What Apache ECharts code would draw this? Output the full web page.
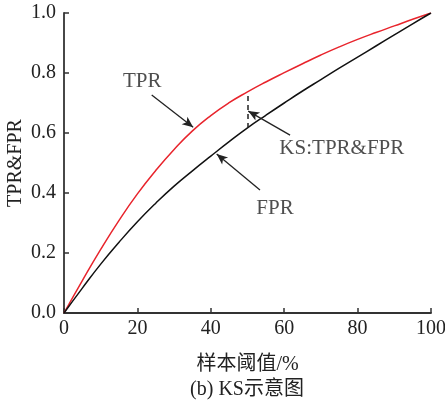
<!DOCTYPE html>
<html><head><meta charset="utf-8">
<script src="https://cdn.jsdelivr.net/npm/echarts@6/dist/echarts.min.js"></script>
<style>html,body{margin:0;padding:0;background:#fff}#c{width:445px;height:400px}</style>
</head><body><div id="c"></div>
<script>
const thresholds = [0,5,10,15,20,25,30,35,40,45,50,55,60,65,70,75,80,85,90,95,100];
const tpr = [0,0.108,0.212,0.309,0.397,0.475,0.545,0.607,0.658,0.701,0.737,0.770,0.801,0.831,0.860,0.887,0.912,0.935,0.957,0.979,1.0];
const fpr = [0,0.083,0.163,0.236,0.304,0.366,0.423,0.474,0.523,0.571,0.617,0.659,0.70,0.74,0.778,0.816,0.853,0.89,0.927,0.964,1.0];
const xTicks = [0,20,40,60,80,100];
const yTicks = [0,0.2,0.4,0.6,0.8,1.0];
const ksIndex = 10;
const annoLabels = ['TPR','KS:TPR&FPR','FPR'];
const annoLabelPos = [[21.3,0.773],[75.7,0.547],[57.5,0.35]];
const annoArrowFrom = [[23.9,0.727],[61.6,0.593],[53.4,0.41]];
const annoArrowTo = [[35.2,0.619],[50.2,0.673],[41.6,0.53]];
const xName = '样本阈值/%';
const yName = 'TPR&FPR';
const caption = '(b) KS示意图';

const FONT = "'Liberation Serif', 'Noto Sans CJK SC', serif";
const chart = echarts.init(document.getElementById('c'));
const axisCommon = {
  axisLine:{show:true,lineStyle:{color:'#333',width:1.8}},
  axisTick:{show:true,inside:true,length:5,lineStyle:{color:'#333',width:1.5}},
  splitLine:{show:false},
  nameMoveOverlap:false,
  nameTextStyle:{color:'#222',fontFamily:FONT,fontSize:20}
};
chart.setOption({
  animation:false,
  backgroundColor:'#fff',
  grid:{left:64,right:14,top:13,bottom:87,containLabel:false,outerBoundsMode:'none'},
  xAxis:Object.assign({type:'value',min:xTicks[0],max:xTicks[xTicks.length-1],interval:xTicks[1]-xTicks[0],
    name:xName,nameLocation:'middle',nameGap:42},axisCommon,
    {axisLabel:{color:'#222',fontFamily:FONT,fontSize:20,margin:6}}),
  yAxis:Object.assign({type:'value',min:yTicks[0],max:yTicks[yTicks.length-1],interval:yTicks[1]-yTicks[0],
    name:yName,nameLocation:'middle',nameGap:38},axisCommon,
    {axisLabel:{color:'#222',fontFamily:FONT,fontSize:20,margin:8,formatter:v=>v.toFixed(1)}}),
  graphic:[{type:'text',x:247,y:390,style:{text:caption,fill:'#222',font:'20px '+FONT,textAlign:'center',textVerticalAlign:'middle'}}],
  series:[
    {type:'line',data:thresholds.map((t,i)=>[t,tpr[i]]),smooth:true,showSymbol:false,
     lineStyle:{color:'#e8242c',width:1.5},
     markLine:{silent:true,symbol:['none','arrow'],symbolSize:[7,11],label:{show:false},
       lineStyle:{color:'#222',width:1.3,type:'solid'},
       data:annoArrowFrom.map((p,i)=>[{coord:p},{coord:annoArrowTo[i]}])}},
    {type:'line',data:thresholds.map((t,i)=>[t,fpr[i]]),smooth:true,showSymbol:false,
     lineStyle:{color:'#111',width:1.5},
     markLine:{silent:true,symbol:['none','none'],label:{show:false},
       lineStyle:{color:'#222',width:1.5,type:[5,4]},
       data:[[{coord:[thresholds[ksIndex],fpr[ksIndex]]},{coord:[thresholds[ksIndex],tpr[ksIndex]]}]]}},
    {type:'scatter',symbolSize:0,silent:true,
     data:annoLabels.map((n,i)=>({name:n,value:annoLabelPos[i]})),
     label:{show:true,position:'inside',formatter:p=>p.name,color:'#222',fontFamily:FONT,fontSize:21}}
  ]
});
</script></body></html>
